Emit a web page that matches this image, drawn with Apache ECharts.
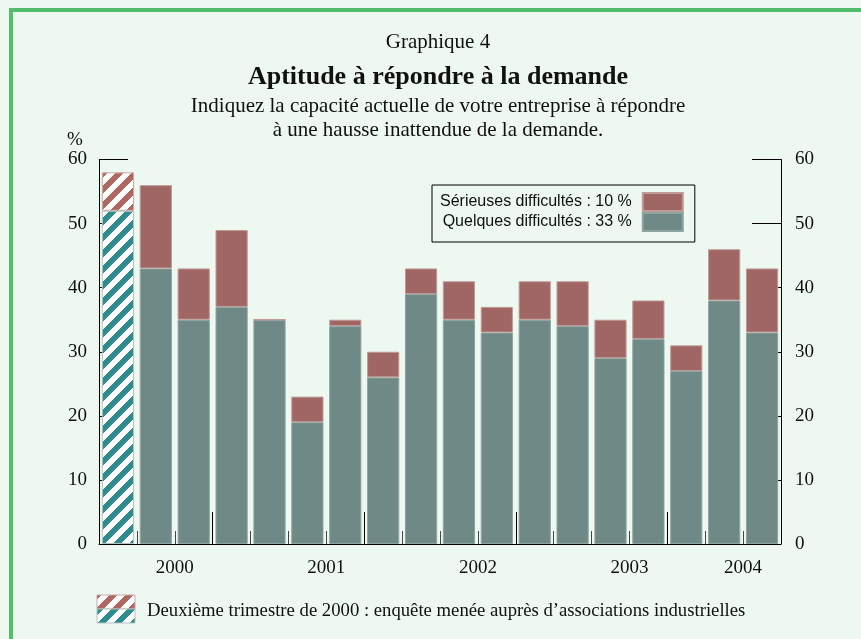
<!DOCTYPE html>
<html>
<head>
<meta charset="utf-8">
<script src="https://cdn.jsdelivr.net/npm/echarts@6/dist/echarts.min.js"></script>
<style>
  html, body { margin: 0; padding: 0; background: #edf8f0; }
  #chart { position: absolute; left: 0; top: 0; width: 861px; height: 639px; }
  #frame { position: absolute; left: 9px; top: 8px; width: 900px; height: 700px;
           border-left: 4px solid #52bd6b; border-top: 4px solid #52bd6b; pointer-events: none; }
</style>
</head>
<body>
<div id="chart"></div>
<div id="frame"></div>
<script>
// trimestres, de 2000T2 (enquête auprès d'associations) à 2004T3
var quarters = ["2000T2", "2000T3", "2000T4",
  "2001T1", "2001T2", "2001T3", "2001T4",
  "2002T1", "2002T2", "2002T3", "2002T4",
  "2003T1", "2003T2", "2003T3", "2003T4",
  "2004T1", "2004T2", "2004T3"];
var quelques = [52, 43, 35, 37, 35, 19, 34, 26, 39, 35, 33, 35, 34, 29, 32, 27, 38, 33];
var serieuses = [6, 13, 8, 12, 0, 4, 1, 4, 4, 6, 4, 6, 7, 6, 6, 4, 8, 10];
var yearLabels = ["2000", "2001", "2002", "2003", "2004"];
var yearLabelAt = [2, 6, 10, 14, 17];
var yearBreaks = [3, 7, 11, 15];

var serif = '"Liberation Serif", "DejaVu Serif", serif';
var sans = '"Liberation Sans", Arial, sans-serif';

// motif hachuré (diagonales "/")
function hatch(color) {
  var s = 16;
  var c = document.createElement("canvas");
  c.width = s; c.height = s;
  var ctx = c.getContext("2d");
  ctx.fillStyle = "#ffffff";
  ctx.fillRect(0, 0, s, s);
  ctx.fillStyle = color;
  for (var x = 0; x < s; x++) {
    for (var y = 0; y < s; y++) {
      if ((x + y) % s < s / 2) ctx.fillRect(x, y, 1, 1);
    }
  }
  return { image: c, repeat: "repeat" };
}
var tealPat = hatch("#2e8b8f");
var redPat = hatch("#b0675f");

var chart = echarts.init(document.getElementById("chart"), null, { renderer: "canvas" });

var dataQ = quelques.map(function (v, i) {
  return i === 0 ? { value: v, itemStyle: { color: tealPat, borderColor: "#b5c4c2" } } : v;
});
var dataS = serieuses.map(function (v, i) {
  return i === 0 ? { value: v, itemStyle: { color: redPat, borderColor: "#c9a9a6" } } : v;
});

chart.setOption({
  backgroundColor: "#edf8f0",
  animation: false,
  grid: { left: 99, right: 80, top: 159.5, bottom: 95 },
  legend: {
    data: ["Sérieuses difficultés", "Quelques difficultés"],
    orient: "vertical",
    align: "right",
    left: 432,
    top: 185,
    itemGap: 0,
    itemWidth: 40,
    itemHeight: 18,
    icon: "rect",
    borderColor: "#000",
    borderWidth: 1,
    padding: [7, 11, 10, 8],
    selectedMode: false,
    formatter: function (name) {
      var arr = name === "Sérieuses difficultés" ? serieuses : quelques;
      return name + " : " + arr[arr.length - 1] + " %";
    },
    textStyle: { fontFamily: sans, fontSize: 16, color: "#111", align: "right", padding: [0, 6, 0, 0] }
  },
  xAxis: [
    {
      type: "category",
      data: quarters,
      axisLine: { lineStyle: { color: "#000", width: 1 } },
      axisTick: { show: false },
      axisLabel: { show: false }
    },
    {
      type: "value",
      min: 0, max: 18,
      position: "bottom",
      axisLine: { show: false, onZero: false },
      splitLine: { show: false },
      axisTick: {
        show: true, inside: true, length: 13,
        customValues: quarters.slice(1).map(function (q, i) { return i + 1; }),
        lineStyle: { color: "#444", width: 1 }
      },
      axisLabel: {
        customValues: yearLabelAt,
        margin: 15,
        fontFamily: serif, fontSize: 19, color: "#111",
        formatter: function (v) { return yearLabels[yearLabelAt.indexOf(v)]; }
      }
    },
    {
      type: "value",
      min: 0, max: 18,
      position: "bottom",
      axisLine: { show: false, onZero: false },
      splitLine: { show: false },
      axisTick: {
        show: true, inside: true, length: 32,
        customValues: yearBreaks,
        lineStyle: { color: "#000", width: 1 }
      },
      axisLabel: { show: false }
    }
  ],
  yAxis: [
    {
      type: "value", min: 0, max: 60, interval: 10,
      position: "left",
      axisLine: { show: true, onZero: false, lineStyle: { color: "#000" } },
      axisTick: { show: true, inside: true, length: 29, lineStyle: { color: "#000" } },
      splitLine: { show: false },
      axisLabel: { margin: 12, fontFamily: serif, fontSize: 19, color: "#111" }
    },
    {
      type: "value", min: 0, max: 60, interval: 10,
      position: "right",
      axisLine: { show: true, onZero: false, lineStyle: { color: "#000" } },
      axisTick: { show: true, inside: true, length: 29, lineStyle: { color: "#000" } },
      splitLine: { show: false },
      axisLabel: { margin: 14, fontFamily: serif, fontSize: 19, color: "#111" }
    }
  ],
  series: [
    {
      name: "Quelques difficultés",
      type: "bar",
      stack: "total",
      barCategoryGap: "15%",
      data: dataQ,
      itemStyle: { color: "#6f8a86", borderColor: "#8fa4a0", borderWidth: 1 }
    },
    {
      name: "Sérieuses difficultés",
      type: "bar",
      stack: "total",
      barCategoryGap: "15%",
      data: dataS,
      itemStyle: { color: "#a06664", borderColor: "#bf9a98", borderWidth: 1 }
    }
  ],
  graphic: [
    { type: "text", x: 438, y: 42, style: { text: "Graphique 4", font: "21px " + serif, fill: "#111", textAlign: "center", textVerticalAlign: "middle" } },
    { type: "text", x: 438, y: 77, style: { text: "Aptitude à répondre à la demande", font: "bold 26px " + serif, fill: "#111", textAlign: "center", textVerticalAlign: "middle" } },
    { type: "text", x: 438, y: 106, style: { text: "Indiquez la capacité actuelle de votre entreprise à répondre", font: "21px " + serif, fill: "#111", textAlign: "center", textVerticalAlign: "middle" } },
    { type: "text", x: 438, y: 130, style: { text: "à une hausse inattendue de la demande.", font: "21px " + serif, fill: "#111", textAlign: "center", textVerticalAlign: "middle" } },
    { type: "text", x: 75, y: 140, style: { text: "%", font: "19px " + serif, fill: "#111", textAlign: "center", textVerticalAlign: "middle" } },
    { type: "rect", shape: { x: 97, y: 595, width: 38, height: 14 }, style: { fill: redPat, stroke: "#c9a9a6", lineWidth: 1 } },
    { type: "rect", shape: { x: 97, y: 609, width: 38, height: 14 }, style: { fill: tealPat, stroke: "#b5c4c2", lineWidth: 1 } },
    { type: "text", x: 147, y: 611, style: { text: "Deuxième trimestre de 2000 : enquête menée auprès d’associations industrielles", font: "18.7px " + serif, fill: "#111", textAlign: "left", textVerticalAlign: "middle" } }
  ]
});
</script>
</body>
</html>
